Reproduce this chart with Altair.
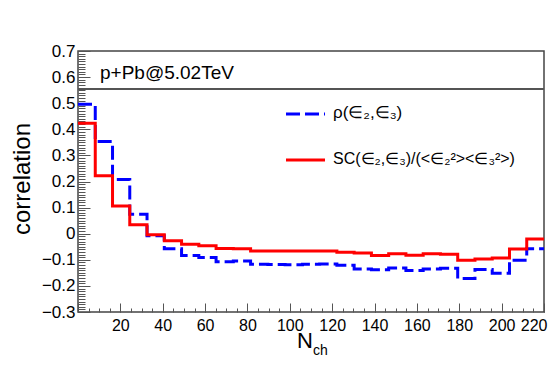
import altair as alt
import pandas as pd

# ---- data ----
bin_edges = [0.0, 8.15, 16.30, 24.44, 32.59, 40.74, 48.89, 57.04, 65.19, 73.33,
             81.48, 89.63, 97.78, 105.93, 114.07, 122.22, 130.37, 138.52, 146.67,
             154.81, 162.96, 171.11, 179.26, 187.41, 195.56, 203.70, 211.85, 220.0]

rho_vals = [0.496, 0.353, 0.208, 0.075, -0.008, -0.058, -0.084, -0.091, -0.107,
            -0.105, -0.117, -0.118, -0.119, -0.117, -0.116, -0.121, -0.135, -0.138,
            -0.131, -0.141, -0.135, -0.132, -0.172, -0.137, -0.152, -0.102, -0.058]

sc_vals = [0.423, 0.222, 0.106, 0.034, -0.004, -0.027, -0.040, -0.046, -0.057,
           -0.058, -0.066, -0.066, -0.066, -0.066, -0.066, -0.071, -0.074, -0.084,
           -0.077, -0.083, -0.077, -0.079, -0.102, -0.097, -0.093, -0.059, -0.020]

x_tick_labels = [20, 40, 60, 80, 100, 120, 140, 160, 180, 200, 220]
y_tick_labels = [-0.3, -0.2, -0.1, 0.0, 0.1, 0.2, 0.3, 0.4, 0.5, 0.6, 0.7]
pave_edge = 0.553

FONT = "Liberation Sans"
TICK_COLOR = "#555555"


def steps(vals, name):
    rows = [{"series": name, "x": bin_edges[i], "y": v} for i, v in enumerate(vals)]
    rows.append({"series": name, "x": bin_edges[-1], "y": vals[-1]})
    return rows


df = pd.DataFrame(steps(rho_vals, "rho") + steps(sc_vals, "sc"))

xs = alt.Scale(domain=[0, 220], nice=False, zero=False)
ys = alt.Scale(domain=[-0.3, 0.7], nice=False, zero=False)

x_minor = [v for v in range(0, 221, 5)]
y_minor = [round(-0.3 + 0.01 * i, 2) for i in range(0, 101)]

x_major_axis = alt.Axis(values=[0] + x_tick_labels, orient="bottom", tickSize=9, offset=-9,
                        domain=False, grid=False, labelPadding=5, labelFontSize=16,
                        labelFont=FONT, labelColor="black", tickColor=TICK_COLOR,
                        tickWidth=1, title=None, labelFlush=True, labelFlushOffset=3,
                        labelOverlap=False, labelBound=False,
                        labelExpr="datum.value == 0 ? '' : datum.label")
y_major_axis = alt.Axis(values=y_tick_labels, orient="left", tickSize=12, offset=-12,
                        domain=False, grid=False, labelPadding=3, labelFontSize=17,
                        labelFont=FONT, labelColor="black", tickColor=TICK_COLOR,
                        tickWidth=1, title=None, labelOverlap=False, labelFlush=False,
                        labelExpr="abs(datum.value) < 1e-9 ? '0' : replace(format(datum.value, '.1f'), '-', '\u2212')")
x_minor_axis = alt.Axis(values=x_minor, orient="bottom", tickSize=4, offset=-4,
                        domain=False, grid=False, labels=False, tickColor=TICK_COLOR,
                        tickWidth=1, title=None)
y_minor_axis = alt.Axis(values=y_minor, orient="left", tickSize=7, offset=-7,
                        domain=False, grid=False, labels=False, tickColor=TICK_COLOR,
                        tickWidth=1, title=None)

base = alt.Chart(df)

blue = base.transform_filter(alt.datum.series == "rho").mark_line(
    interpolate="step-after", color="#0000ff", strokeWidth=3, strokeDash=[14, 5]
).encode(
    x=alt.X("x:Q", scale=xs, axis=x_major_axis),
    y=alt.Y("y:Q", scale=ys, axis=y_major_axis),
)

red = base.transform_filter(alt.datum.series == "sc").mark_line(
    interpolate="step-after", color="#ff0000", strokeWidth=3
).encode(
    x=alt.X("x:Q", scale=xs, axis=x_minor_axis),
    y=alt.Y("y:Q", scale=ys, axis=y_minor_axis),
)

pave = alt.Chart(df).mark_rule(color="#555555", strokeWidth=1.5).encode(
    x=alt.value(0), x2=alt.value(466),
    y=alt.Y(datum=pave_edge, scale=ys, axis=None),
)


def label(text, x, y, size=17, align="left", baseline="middle", angle=0):
    return alt.Chart(pd.DataFrame({"t": [text]})).mark_text(
        align=align, baseline=baseline, fontSize=size, font=FONT, color="black", angle=angle
    ).encode(x=alt.value(x), y=alt.value(y), text="t:N")


title_box = label("p+Pb@5.02TeV", 22, 22, size=19)

leg_blue = alt.Chart(pd.DataFrame({"a": [0]})).mark_rule(
    color="#0000ff", strokeWidth=3, strokeDash=[14, 5]
).encode(x=alt.value(208), x2=alt.value(247), y=alt.value(63))
leg_red = alt.Chart(pd.DataFrame({"a": [0]})).mark_rule(
    color="#ff0000", strokeWidth=3
).encode(x=alt.value(208), x2=alt.value(247), y=alt.value(109))

leg_t1 = label("\u03c1(\u2208\u2082,\u2208\u2083)", 255, 62, size=17)
leg_t2 = label("SC(\u2208\u2082,\u2208\u2083)/(<\u2208\u2082\u00b2><\u2208\u2083\u00b2>)", 255, 108, size=16)

y_title = label("correlation", -55, 128, size=24, align="center", angle=270)
x_title_n = label("N", 219, 297, size=22, baseline="alphabetic")
x_title_ch = label("ch", 235, 304, size=14, baseline="alphabetic")

chart = alt.layer(
    pave, blue, red, title_box, leg_blue, leg_red, leg_t1, leg_t2,
    y_title, x_title_n, x_title_ch
).resolve_axis(x="independent", y="independent").properties(
    width=466, height=261,
    autosize=alt.AutoSizeParams(type="none"),
    padding={"left": 70, "top": 43, "right": 4, "bottom": 46},
    background="white",
).configure_view(stroke="#444444", strokeWidth=1.5)

chart.save("out.html", embed_options={"renderer": "svg", "actions": False})
